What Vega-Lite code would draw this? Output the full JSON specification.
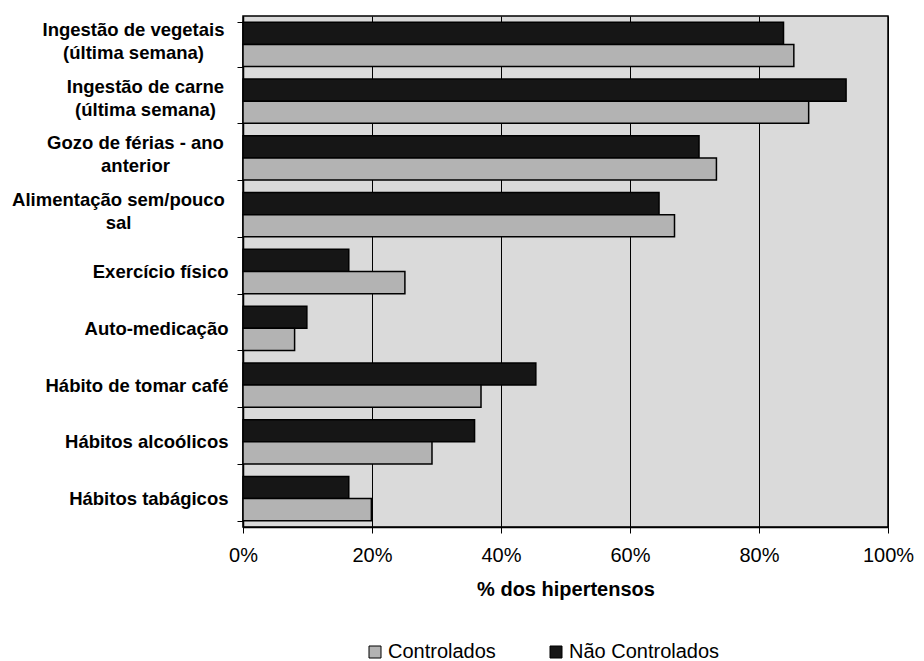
{
  "$schema": "https://vega.github.io/schema/vega-lite/v6.json",
  "autosize": "none",
  "width": 645,
  "height": 511,
  "padding": {"left": 243, "top": 16, "right": 36, "bottom": 134},
  "background": "white",
  "config": {
    "font": "Liberation Sans",
    "view": {"fill": "#dadada", "stroke": "black", "strokeWidth": 1.5}
  },
  "data": {
    "values": [
      {"categoria": "Ingestão de vegetais (última semana)", "grupo": "Não Controlados", "valor": 0.838},
      {"categoria": "Ingestão de vegetais (última semana)", "grupo": "Controlados", "valor": 0.854},
      {"categoria": "Ingestão de carne (última semana)", "grupo": "Não Controlados", "valor": 0.935},
      {"categoria": "Ingestão de carne (última semana)", "grupo": "Controlados", "valor": 0.877},
      {"categoria": "Gozo de férias - ano anterior", "grupo": "Não Controlados", "valor": 0.707},
      {"categoria": "Gozo de férias - ano anterior", "grupo": "Controlados", "valor": 0.734},
      {"categoria": "Alimentação sem/pouco sal", "grupo": "Não Controlados", "valor": 0.645},
      {"categoria": "Alimentação sem/pouco sal", "grupo": "Controlados", "valor": 0.669},
      {"categoria": "Exercício físico", "grupo": "Não Controlados", "valor": 0.164},
      {"categoria": "Exercício físico", "grupo": "Controlados", "valor": 0.251},
      {"categoria": "Auto-medicação", "grupo": "Não Controlados", "valor": 0.099},
      {"categoria": "Auto-medicação", "grupo": "Controlados", "valor": 0.08},
      {"categoria": "Hábito de tomar café", "grupo": "Não Controlados", "valor": 0.454},
      {"categoria": "Hábito de tomar café", "grupo": "Controlados", "valor": 0.369},
      {"categoria": "Hábitos alcoólicos", "grupo": "Não Controlados", "valor": 0.359},
      {"categoria": "Hábitos alcoólicos", "grupo": "Controlados", "valor": 0.293},
      {"categoria": "Hábitos tabágicos", "grupo": "Não Controlados", "valor": 0.164},
      {"categoria": "Hábitos tabágicos", "grupo": "Controlados", "valor": 0.199}
    ]
  },
  "mark": {"type": "bar", "stroke": "black", "strokeWidth": 1.5},
  "encoding": {
    "y": {
      "field": "categoria",
      "type": "nominal",
      "sort": null,
      "scale": {"paddingInner": 0.22, "paddingOuter": 0.11},
      "axis": {
        "title": null,
        "labelExpr": "datum.label == 'Ingestão de vegetais (última semana)' ? ['Ingestão de vegetais', '(última semana)'] : datum.label == 'Ingestão de carne (última semana)' ? ['Ingestão de carne', '(última semana)'] : datum.label == 'Gozo de férias - ano anterior' ? ['Gozo de férias - ano', 'anterior'] : datum.label == 'Alimentação sem/pouco sal' ? ['Alimentação sem/pouco', 'sal'] : datum.label",
        "labelOffset": {"condition": {"test": "datum.value == 'Ingestão de vegetais (última semana)' || datum.value == 'Ingestão de carne (última semana)' || datum.value == 'Gozo de férias - ano anterior' || datum.value == 'Alimentação sem/pouco sal'", "value": -15}, "value": 0},
        "labelAlign": {"condition": {"test": "datum.value == 'Ingestão de vegetais (última semana)' || datum.value == 'Ingestão de carne (última semana)' || datum.value == 'Gozo de férias - ano anterior' || datum.value == 'Alimentação sem/pouco sal'", "value": "center"}, "value": "right"},
        "labelPadding": {"condition": [
          {"test": "datum.value == 'Ingestão de vegetais (última semana)'", "value": 104},
          {"test": "datum.value == 'Ingestão de carne (última semana)'", "value": 92},
          {"test": "datum.value == 'Gozo de férias - ano anterior'", "value": 102},
          {"test": "datum.value == 'Alimentação sem/pouco sal'", "value": 119}
        ], "value": 9},
        "labelFont": "Liberation Sans",
        "labelFontSize": 18.5,
        "labelFontWeight": "bold",
        "labelColor": "black",
        "labelLineHeight": 23,
        "labelLimit": 300,
        "tickBand": "extent",
        "tickColor": "black",
        "tickSize": 6,
        "domainColor": "black",
        "domainWidth": 1.5,
        "grid": false
      }
    },
    "yOffset": {
      "field": "grupo",
      "type": "nominal",
      "sort": ["Não Controlados", "Controlados"]
    },
    "x": {
      "field": "valor",
      "type": "quantitative",
      "scale": {"domain": [0, 1], "nice": false},
      "axis": {
        "title": "% dos hipertensos",
        "format": ".0%",
        "values": [0, 0.2, 0.4, 0.6, 0.8, 1],
        "labelFont": "Liberation Sans",
        "labelFontSize": 20,
        "labelColor": "black",
        "labelPadding": 12,
        "labelFlush": false,
        "tickColor": "black",
        "tickSize": 6,
        "domainColor": "black",
        "domainWidth": 1.5,
        "grid": true,
        "gridColor": "black",
        "gridWidth": 1,
        "gridOpacity": 1,
        "titleFont": "Liberation Sans",
        "titleFontSize": 20,
        "titleFontWeight": "bold",
        "titleColor": "black",
        "titlePadding": 14
      }
    },
    "color": {
      "field": "grupo",
      "type": "nominal",
      "scale": {"domain": ["Controlados", "Não Controlados"], "range": ["#b3b3b3", "#161616"]},
      "legend": {
        "title": null,
        "orient": "none",
        "direction": "horizontal",
        "legendX": 122,
        "legendY": 626,
        "symbolType": "square",
        "symbolSize": 144,
        "symbolStrokeColor": "black",
        "symbolStrokeWidth": 1,
        "symbolOpacity": 1,
        "labelFont": "Liberation Sans",
        "labelFontSize": 20,
        "labelColor": "black",
        "labelOffset": 3,
        "columnPadding": 50
      }
    }
  }
}
